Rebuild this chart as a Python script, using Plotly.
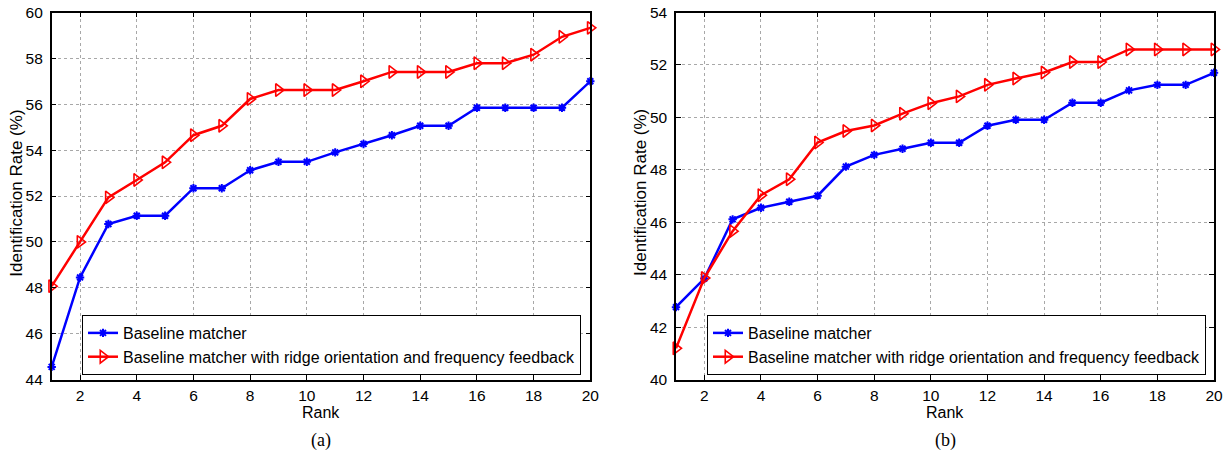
import plotly.graph_objects as go

# Rank positions and identification rates (%) for both experiments
ranks = list(range(1, 21))

# (a)
baseline_a = [44.55, 48.45, 50.78, 51.14, 51.14, 52.34, 52.34, 53.12, 53.49, 53.49,
              53.90, 54.27, 54.65, 55.06, 55.06, 55.85, 55.85, 55.85, 55.85, 57.00]
feedback_a = [48.07, 50.00, 51.94, 52.70, 53.47, 54.65, 55.06, 56.23, 56.62, 56.62,
              56.62, 57.00, 57.41, 57.41, 57.41, 57.79, 57.79, 58.16, 58.94, 59.33]

# (b)
baseline_b = [42.76, 43.85, 46.11, 46.55, 46.78, 47.01, 48.12, 48.57, 48.80, 49.03,
              49.03, 49.68, 49.91, 49.91, 50.56, 50.56, 51.03, 51.24, 51.24, 51.70]
feedback_b = [41.19, 43.87, 45.66, 47.03, 47.64, 49.04, 49.48, 49.69, 50.14, 50.54,
              50.80, 51.24, 51.48, 51.71, 52.11, 52.11, 52.59, 52.59, 52.59, 52.59]

name_base = "Baseline matcher"
name_fb = "Baseline matcher with ridge orientation and frequency feedback"
x_ticks = list(range(2, 21, 2))
y_ticks_a = list(range(44, 61, 2))
y_ticks_b = list(range(40, 55, 2))
panel_labels = ["(a)", "(b)"]

W, H = 1230, 454
FONT = "Liberation Sans, Arial, sans-serif"

fig = go.Figure()


def add_pair(xa, ya, base, fb, legend):
    fig.add_trace(go.Scatter(
        x=ranks, y=base, name=name_base, xaxis=xa, yaxis=ya, legend=legend,
        mode="lines+markers", cliponaxis=False,
        line=dict(color="#0000ff", width=2.5),
        marker=dict(symbol="asterisk-open", size=7, color="#0000ff",
                    line=dict(color="#0000ff", width=2)),
    ))
    fig.add_trace(go.Scatter(
        x=ranks, y=fb, name=name_fb, xaxis=xa, yaxis=ya, legend=legend,
        mode="lines+markers", cliponaxis=False,
        line=dict(color="#ff0000", width=2.5),
        marker=dict(symbol="triangle-right-open", size=11, color="#ff0000",
                    line=dict(color="#ff0000", width=1.6)),
    ))


add_pair("x", "y", baseline_a, feedback_a, "legend")
add_pair("x2", "y2", baseline_b, feedback_b, "legend2")

# pixel geometry of the two panels
left_a, right_a = 51.7, 590.3
left_b, right_b = 676.0, 1214.0
top_px, bot_px = 12.5, 379.5


def fx(px):
    return px / W


def fy(py):
    return 1 - py / H


common_x = dict(
    range=[1, 20], tickvals=x_ticks, ticks="inside", ticklen=5, tickwidth=1,
    tickcolor="black", showline=True, linecolor="black", linewidth=1.5,
    mirror="ticks", showgrid=True, gridcolor="#a8a8a8", griddash="dot",
    gridwidth=1, zeroline=False, tickfont=dict(family=FONT, size=15.5, color="black"),
    ticklabelstandoff=1,
)
common_y = dict(
    ticks="inside", ticklen=5, tickwidth=1, tickcolor="black", showline=True,
    linecolor="black", linewidth=1.5, mirror="ticks", showgrid=True,
    gridcolor="#a8a8a8", griddash="dot", gridwidth=1, zeroline=False,
    tickfont=dict(family=FONT, size=15.5, color="black"), ticklabelstandoff=4,
)

legend_style = dict(
    bgcolor="white", bordercolor="black", borderwidth=1,
    font=dict(family=FONT, size=16, color="black"),
    xanchor="left", yanchor="bottom", tracegroupgap=0,
    itemwidth=30,
)

fig.update_layout(
    width=W, height=H,
    margin=dict(l=0, r=0, t=0, b=0, autoexpand=False),
    paper_bgcolor="white", plot_bgcolor="white", showlegend=True,
    xaxis=dict(domain=[fx(left_a), fx(right_a)], anchor="y", **common_x),
    yaxis=dict(domain=[fy(bot_px), fy(top_px)], anchor="x", range=[44, 60],
               tickvals=y_ticks_a, **common_y),
    xaxis2=dict(domain=[fx(left_b), fx(right_b)], anchor="y2", **common_x),
    yaxis2=dict(domain=[fy(bot_px), fy(top_px)], anchor="x2", range=[40, 54],
                tickvals=y_ticks_b, **common_y),
    legend=dict(x=fx(82), y=fy(375), **legend_style),
    legend2=dict(x=fx(707), y=fy(375), **legend_style),
)

for left, right, label in [(left_a, right_a, panel_labels[0]),
                           (left_b, right_b, panel_labels[1])]:
    cx = fx((left + right) / 2)
    fig.add_annotation(x=cx, y=fy(412), xref="paper", yref="paper",
                       xanchor="center", yanchor="middle",
                       text="Rank", showarrow=False,
                       font=dict(family=FONT, size=16, color="black"))
    fig.add_annotation(x=cx, y=fy(440), xref="paper", yref="paper",
                       xanchor="center", yanchor="middle",
                       text=label, showarrow=False,
                       font=dict(family="Liberation Serif, Times New Roman, serif",
                                 size=18, color="black"))
    fig.add_annotation(x=fx(left - 36), y=fy(193),
                       xref="paper", yref="paper",
                       xanchor="center", yanchor="middle",
                       text="Identification Rate (%)",
                       textangle=-90, showarrow=False,
                       font=dict(family=FONT, size=17, color="black"))

fig.write_html("out.html")
